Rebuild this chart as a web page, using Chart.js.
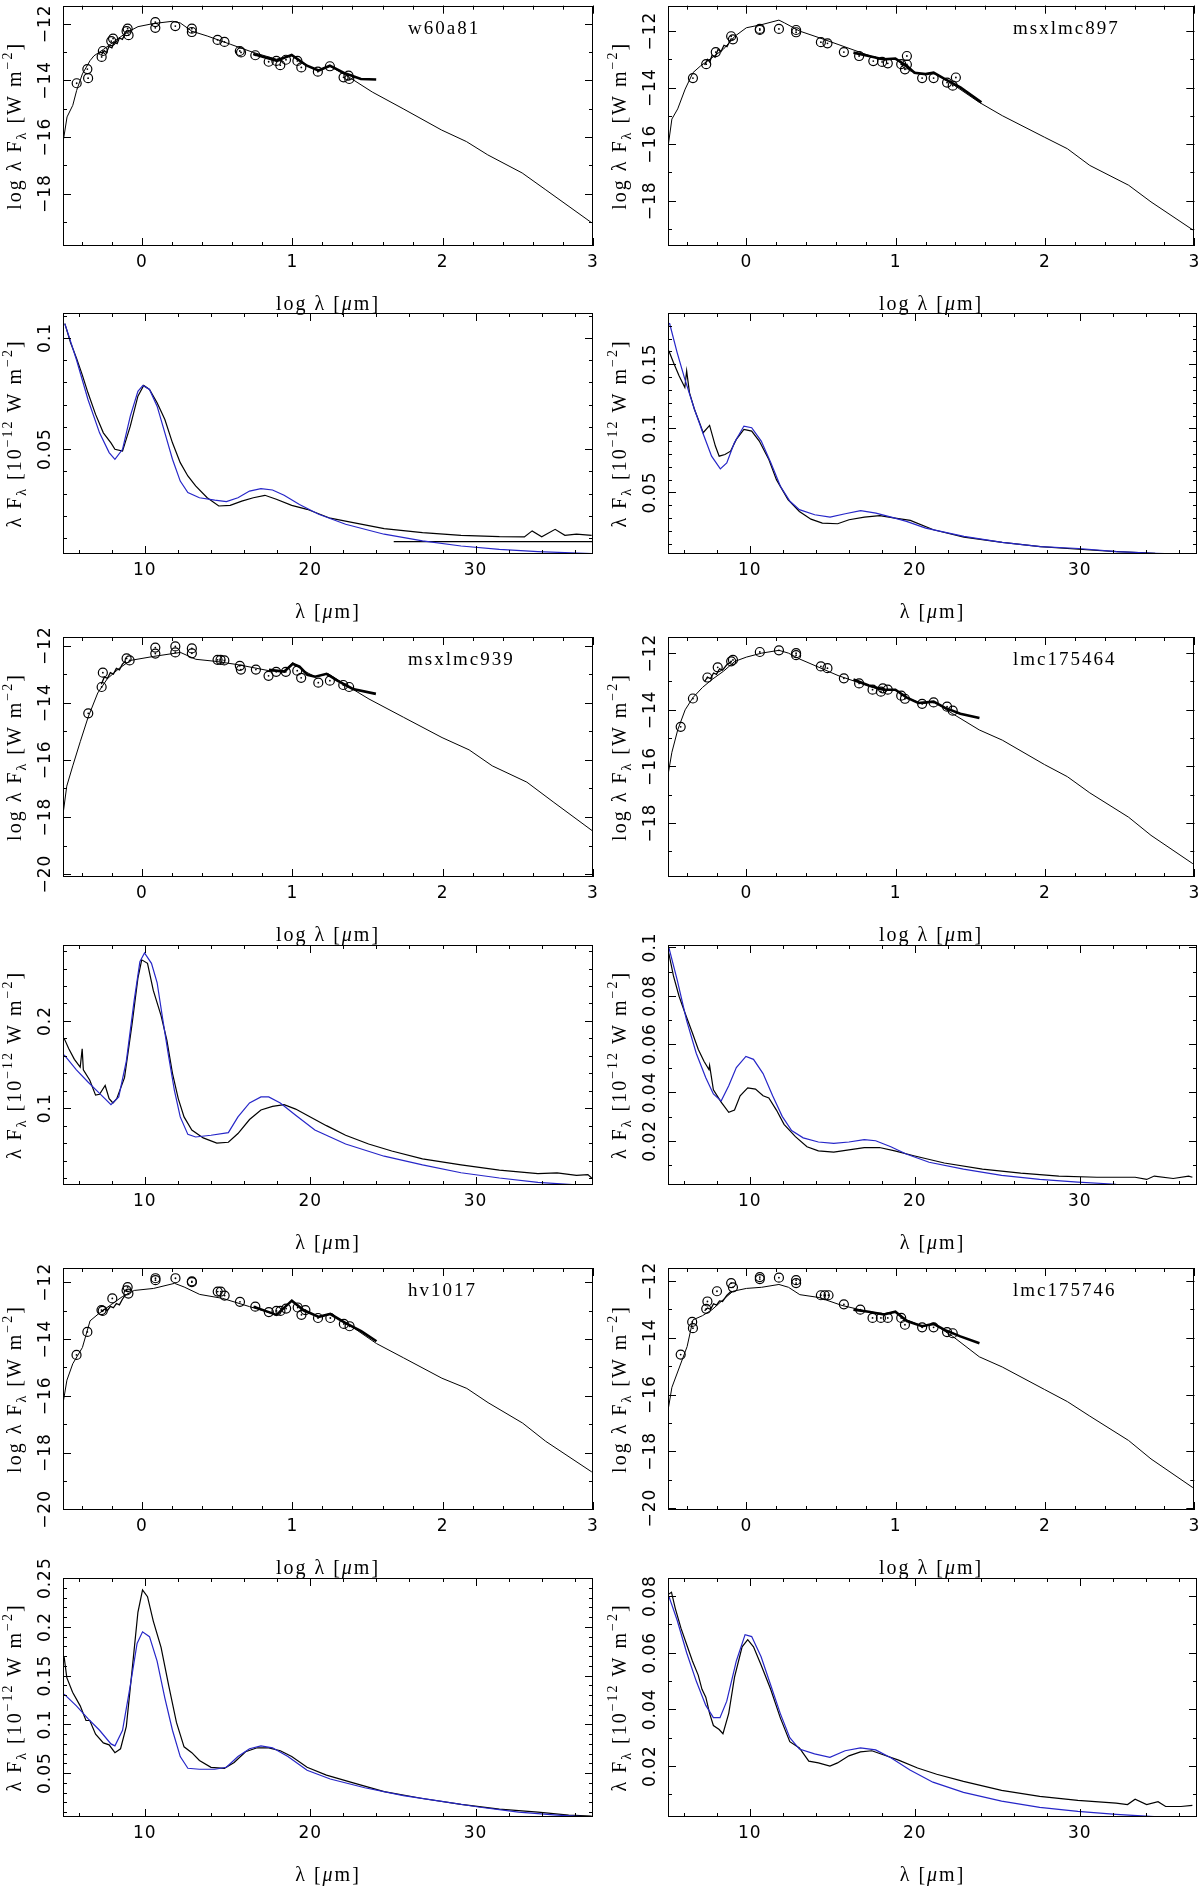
<!DOCTYPE html>
<html>
<head>
<meta charset="utf-8">
<script src="https://cdn.jsdelivr.net/npm/chart.js@4.4.1/dist/chart.umd.min.js"></script>
<style>
html, body { margin: 0; padding: 0; background: #fff; }
#wrap { position: relative; width: 1200px; height: 1893px; overflow: hidden; }
#wrap canvas { position: absolute; }
</style>
</head>
<body>
<div id="wrap"></div>
<script>
// ---- axis ticks ----
var sedXTicks = [0, 1, 2, 3];
var sedYTicks = [-12, -14, -16, -18, -20];
var specXTicks = [10, 20, 30];

// ---- w60a81 ----
var w60a81Model = [[-0.524,-16.16],[-0.498,-15.29],[-0.46,-14.88],[-0.434,-14.35],[-0.396,-13.77],[-0.345,-13.3],[-0.319,-13.13],[-0.255,-12.9],[-0.179,-12.6],[-0.102,-12.31],[-0.026,-12.1],[0.077,-11.99],[0.204,-11.91],[0.255,-11.97],[0.332,-12.26],[0.434,-12.43],[0.587,-12.72],[0.74,-13.01],[0.894,-13.25],[0.996,-13.13],[1.073,-13.42],[1.175,-13.65],[1.25,-13.5],[1.379,-13.89],[1.532,-14.41],[1.737,-15.0],[1.992,-15.75],[2.158,-16.16],[2.3,-16.63],[2.529,-17.27],[2.682,-17.85],[2.989,-19.02]];
var w60a81Irs = [[0.74,-13.07],[0.894,-13.3],[0.996,-13.1],[1.098,-13.48],[1.175,-13.65],[1.25,-13.48],[1.35,-13.75],[1.456,-13.95],[1.558,-13.97]];
var w60a81Nir = [[-0.27,-13.1],[-0.25,-12.95],[-0.235,-13.02],[-0.22,-12.8],[-0.2,-12.85],[-0.185,-12.65],[-0.165,-12.7],[-0.15,-12.5],[-0.13,-12.55],[-0.11,-12.33]];
var w60a81Phot = [[-0.434,-14.10],[-0.363,-13.60],[-0.358,-13.92],[-0.268,-13.17],[-0.26,-12.96],[-0.204,-12.61],[-0.192,-12.52],[-0.102,-12.26],[-0.095,-12.17],[-0.089,-12.40],[0.089,-11.94],[0.089,-12.14],[0.222,-12.08],[0.332,-12.17],[0.332,-12.29],[0.503,-12.57],[0.549,-12.64],[0.651,-12.96],[0.659,-13.01],[0.754,-13.11],[0.843,-13.34],[0.894,-13.31],[0.92,-13.46],[0.958,-13.27],[1.034,-13.31],[1.06,-13.54],[1.17,-13.69],[1.25,-13.50],[1.341,-13.89],[1.374,-13.83],[1.379,-13.95]];
var w60a81Obs = [[5.16,0.1064],[5.51,0.0978],[5.86,0.091],[6.21,0.0835],[6.56,0.0753],[7.02,0.0656],[7.49,0.0573],[7.95,0.0528],[8.19,0.0499],[8.65,0.0491],[9.12,0.0603],[9.58,0.0738],[9.93,0.0786],[10.28,0.0768],[10.74,0.0708],[11.21,0.0633],[11.67,0.0528],[12.14,0.0439],[12.6,0.0379],[13.07,0.0334],[13.77,0.0281],[14.47,0.0244],[15.16,0.0247],[15.86,0.0266],[16.56,0.0281],[17.26,0.0292],[17.95,0.0274],[18.88,0.0247],[19.81,0.0229],[21.21,0.0189],[22.6,0.0169],[24.47,0.0142],[26.79,0.0124],[29.12,0.0112],[31.44,0.0106],[32.95,0.0105],[33.42,0.0132],[34.0,0.0105],[34.81,0.0139],[35.4,0.0112],[36.1,0.0117],[37.02,0.0112]];
var w60a81Fit = [[5.16,0.1064],[5.86,0.0903],[6.56,0.0723],[7.26,0.0573],[7.84,0.0484],[8.19,0.0454],[8.65,0.0499],[9.12,0.0648],[9.58,0.076],[9.88,0.0786],[10.28,0.0768],[10.74,0.0693],[11.21,0.0573],[11.67,0.0454],[12.14,0.0356],[12.6,0.0304],[13.3,0.0281],[14.23,0.027],[14.93,0.0264],[15.63,0.0281],[16.33,0.0311],[17.02,0.0322],[17.72,0.0316],[18.42,0.0292],[19.35,0.0251],[20.51,0.0207],[22.14,0.0162],[24.47,0.0117],[26.79,0.0087],[29.12,0.0064],[31.44,0.0049],[33.77,0.0039],[37.02,0.003]];
var w60a81Base = [[25.05,0.0084],[37.1,0.0084]];

// ---- msxlmc897 ----
var msx897Model = [[-0.522,-15.99],[-0.499,-15.11],[-0.46,-14.75],[-0.41,-14.05],[-0.358,-13.47],[-0.307,-13.23],[-0.23,-12.94],[-0.154,-12.64],[-0.077,-12.18],[0,-11.88],[0.102,-11.77],[0.218,-11.61],[0.256,-11.71],[0.358,-12.0],[0.486,-12.23],[0.614,-12.47],[0.768,-12.76],[0.896,-13.0],[0.998,-12.97],[1.1,-13.41],[1.177,-13.52],[1.254,-13.47],[1.382,-13.88],[1.56,-14.52],[1.714,-14.99],[1.996,-15.75],[2.15,-16.16],[2.3,-16.75],[2.56,-17.45],[2.71,-18.04],[2.99,-19.03]];
var msx897Irs = [[0.717,-12.76],[0.82,-12.88],[0.92,-13.0],[0.998,-12.97],[1.075,-13.23],[1.126,-13.47],[1.2,-13.52],[1.254,-13.47],[1.33,-13.7],[1.433,-13.99],[1.574,-14.52]];
var msx897Nir = [[-0.28,-13.2],[-0.26,-13.0],[-0.245,-13.1],[-0.23,-12.85],[-0.21,-12.92],[-0.19,-12.65],[-0.17,-12.72],[-0.15,-12.5],[-0.13,-12.55],[-0.1,-12.25]];
var msx897Phot = [[-0.358,-13.66],[-0.269,-13.17],[-0.205,-12.74],[-0.102,-12.18],[-0.09,-12.29],[0.09,-11.92],[0.09,-11.96],[0.218,-11.92],[0.333,-11.96],[0.333,-12.04],[0.499,-12.39],[0.543,-12.43],[0.653,-12.74],[0.755,-12.88],[0.85,-13.06],[0.909,-13.09],[0.947,-13.14],[1.037,-13.17],[1.062,-13.35],[1.075,-12.88],[1.075,-13.18],[1.177,-13.66],[1.254,-13.66],[1.344,-13.82],[1.382,-13.93],[1.403,-13.64]];
var msx897Obs = [[5.1,0.1606],[5.38,0.1514],[5.72,0.141],[6.07,0.1319],[6.18,0.1449],[6.35,0.1279],[6.65,0.1149],[7.0,0.1031],[7.18,0.0966],[7.57,0.1023],[7.92,0.0862],[8.15,0.0783],[8.5,0.0796],[8.84,0.0822],[9.19,0.0914],[9.65,0.0992],[10.12,0.0979],[10.58,0.0901],[11.16,0.0757],[11.62,0.06],[12.32,0.0444],[13.01,0.0352],[13.71,0.0292],[14.4,0.0261],[15.33,0.0256],[16.02,0.0287],[16.95,0.0308],[17.88,0.0319],[18.81,0.03],[19.73,0.0282],[21.13,0.0209],[22.98,0.0151],[25.3,0.011],[27.61,0.0078],[29.93,0.0057],[32.25,0.0039],[34.57,0.0026],[36.89,0.0021]];
var msx897Fit = [[5.14,0.1822],[5.6,0.1593],[6.07,0.1384],[6.65,0.1149],[7.23,0.094],[7.69,0.0783],[8.22,0.0684],[8.61,0.0731],[9.07,0.0888],[9.65,0.1018],[10.12,0.1005],[10.7,0.0901],[11.28,0.0731],[11.86,0.0548],[12.44,0.0431],[13.01,0.0366],[13.94,0.0326],[14.87,0.0308],[15.79,0.0334],[16.72,0.0358],[17.65,0.0339],[18.57,0.0308],[19.5,0.0274],[20.66,0.0222],[22.98,0.0157],[25.3,0.011],[27.61,0.0078],[29.93,0.0063],[32.25,0.0039],[34.57,0.0026],[36.89,0.0018]];

// ---- msxlmc939 ----
var msx939Model = [[-0.525,-17.91],[-0.5,-16.92],[-0.46,-16.21],[-0.41,-15.36],[-0.358,-14.51],[-0.294,-13.66],[-0.23,-13.16],[-0.154,-12.81],[-0.077,-12.52],[0.077,-12.38],[0.256,-12.24],[0.358,-12.48],[0.486,-12.55],[0.64,-12.67],[0.845,-12.88],[0.947,-12.88],[1.003,-12.6],[1.075,-12.88],[1.152,-13.09],[1.241,-12.99],[1.356,-13.38],[1.51,-13.87],[1.74,-14.51],[1.996,-15.22],[2.176,-15.65],[2.33,-16.21],[2.56,-16.78],[2.74,-17.49],[2.995,-18.48]];
var msx939Irs = [[0.845,-12.85],[0.947,-12.91],[1.003,-12.64],[1.048,-12.74],[1.1,-13.02],[1.152,-13.09],[1.228,-12.99],[1.3,-13.23],[1.403,-13.52],[1.556,-13.69]];
var msx939Nir = [[-0.27,-13.35],[-0.25,-13.1],[-0.23,-13.15],[-0.21,-12.95],[-0.19,-13.0],[-0.17,-12.8],[-0.15,-12.85],[-0.13,-12.65],[-0.11,-12.55]];
var msx939Phot = [[-0.357,-14.37],[-0.268,-13.45],[-0.26,-12.95],[-0.102,-12.45],[-0.082,-12.52],[0.089,-12.07],[0.089,-12.28],[0.222,-12.03],[0.222,-12.24],[0.332,-12.10],[0.332,-12.27],[0.503,-12.5],[0.523,-12.5],[0.548,-12.52],[0.651,-12.71],[0.658,-12.84],[0.758,-12.84],[0.842,-13.06],[0.893,-12.92],[0.957,-12.92],[1.033,-12.88],[1.059,-13.13],[1.173,-13.3],[1.25,-13.23],[1.339,-13.38],[1.378,-13.45]];
var msx939Obs = [[5.12,0.18],[5.4,0.168],[5.74,0.156],[6.09,0.147],[6.21,0.168],[6.28,0.144],[6.67,0.132],[7.02,0.115],[7.26,0.116],[7.6,0.126],[7.84,0.111],[8.07,0.106],[8.3,0.111],[8.77,0.135],[9.23,0.197],[9.58,0.249],[9.81,0.27],[10.16,0.266],[10.51,0.235],[10.98,0.206],[11.33,0.178],[11.67,0.14],[12.02,0.111],[12.37,0.09],[12.84,0.075],[13.53,0.066],[14.35,0.06],[15.05,0.061],[15.63,0.071],[16.33,0.087],[17.02,0.098],[17.72,0.102],[18.42,0.104],[19.12,0.099],[19.81,0.092],[20.98,0.08],[22.14,0.069],[23.53,0.059],[24.93,0.051],[26.79,0.042],[29.12,0.035],[31.44,0.029],[33.77,0.025],[34.93,0.026],[36.1,0.023],[36.79,0.024],[37.02,0.02]];
var msx939Fit = [[5.12,0.161],[5.86,0.144],[6.56,0.13],[7.26,0.117],[7.95,0.104],[8.42,0.113],[8.88,0.154],[9.35,0.223],[9.7,0.268],[9.98,0.278],[10.4,0.266],[10.74,0.244],[11.09,0.201],[11.44,0.159],[11.79,0.12],[12.14,0.09],[12.6,0.07],[13.07,0.067],[14.0,0.069],[15.05,0.072],[15.63,0.09],[16.33,0.106],[17.02,0.113],[17.49,0.113],[18.19,0.106],[19.12,0.092],[20.28,0.075],[22.14,0.059],[24.47,0.045],[26.79,0.035],[29.12,0.026],[31.44,0.02],[33.77,0.015],[37.02,0.011]];

// ---- lmc175464 ----
var lmc464Model = [[-0.522,-16.21],[-0.499,-15.5],[-0.46,-14.71],[-0.41,-14.0],[-0.358,-13.57],[-0.294,-13.21],[-0.23,-12.93],[-0.154,-12.64],[-0.077,-12.29],[0,-12.14],[0.102,-12.0],[0.218,-11.9],[0.282,-12.0],[0.358,-12.21],[0.486,-12.5],[0.614,-12.79],[0.768,-13.07],[0.896,-13.29],[0.998,-13.29],[1.075,-13.57],[1.177,-13.79],[1.254,-13.71],[1.382,-14.14],[1.56,-14.71],[1.714,-15.07],[1.996,-15.93],[2.15,-16.36],[2.3,-16.93],[2.56,-17.79],[2.71,-18.43],[2.99,-19.43]];
var lmc464Irs = [[0.717,-12.93],[0.82,-13.14],[0.92,-13.29],[0.998,-13.29],[1.075,-13.57],[1.152,-13.76],[1.254,-13.71],[1.331,-13.93],[1.433,-14.14],[1.561,-14.29]];
var lmc464Nir = [[-0.28,-13.0],[-0.26,-12.85],[-0.24,-12.9],[-0.22,-12.7],[-0.2,-12.75],[-0.18,-12.55],[-0.16,-12.6],[-0.13,-12.4],[-0.1,-12.3]];
var lmc464Phot = [[-0.44,-14.6],[-0.358,-13.6],[-0.261,-12.86],[-0.192,-12.5],[-0.102,-12.29],[-0.09,-12.24],[0.09,-11.96],[0.218,-11.9],[0.333,-12.0],[0.333,-12.07],[0.499,-12.47],[0.543,-12.53],[0.653,-12.89],[0.755,-13.07],[0.845,-13.29],[0.901,-13.36],[0.914,-13.24],[0.947,-13.29],[1.037,-13.5],[1.062,-13.61],[1.177,-13.79],[1.254,-13.74],[1.344,-13.89],[1.382,-14.03]];
var lmc464Obs = [[5.1,0.0975],[5.38,0.0882],[5.72,0.0798],[6.07,0.0731],[6.53,0.0646],[6.88,0.0579],[7.23,0.0529],[7.53,0.0495],[7.57,0.0512],[7.8,0.0411],[8.27,0.036],[8.73,0.0318],[9.08,0.0327],[9.42,0.0386],[9.88,0.0419],[10.35,0.0414],[10.81,0.0386],[11.16,0.0377],[11.62,0.0327],[12.08,0.0268],[12.77,0.0217],[13.47,0.0175],[14.16,0.0158],[15.09,0.0153],[16.01,0.0162],[16.94,0.0172],[17.86,0.0172],[18.79,0.0158],[19.94,0.0138],[21.79,0.0108],[24.1,0.0083],[26.42,0.0066],[28.73,0.0054],[31.04,0.0049],[33.35,0.0049],[34.05,0.004],[34.51,0.0054],[35.66,0.0044],[36.59,0.0054],[36.82,0.0049]];
var lmc464Fit = [[5.1,0.1],[5.61,0.0865],[6.18,0.0697],[6.76,0.0562],[7.34,0.0461],[7.8,0.0394],[8.27,0.0364],[8.73,0.0428],[9.19,0.0503],[9.77,0.0549],[10.23,0.0537],[10.81,0.0478],[11.39,0.0386],[11.97,0.0301],[12.54,0.0242],[13.24,0.0212],[14.16,0.0195],[15.09,0.0189],[16.01,0.0195],[16.94,0.0205],[17.63,0.02],[18.55,0.0175],[19.48,0.0145],[20.87,0.0111],[22.95,0.0083],[25.26,0.0057],[27.57,0.004],[29.88,0.0029],[32.2,0.002],[34.51,0.0015],[36.82,0.0012]];

// ---- hv1017 ----
var hv1017Model = [[-0.524,-16.24],[-0.499,-15.45],[-0.46,-14.87],[-0.396,-14.3],[-0.345,-13.36],[-0.281,-13.08],[-0.205,-12.79],[-0.128,-12.5],[-0.051,-12.29],[0.077,-12.22],[0.217,-12.04],[0.281,-12.17],[0.384,-12.43],[0.537,-12.57],[0.716,-12.86],[0.895,-13.15],[0.997,-12.65],[1.074,-13.01],[1.176,-13.22],[1.253,-13.12],[1.381,-13.51],[1.56,-14.16],[1.739,-14.66],[1.995,-15.38],[2.161,-15.74],[2.302,-16.24],[2.532,-16.96],[2.685,-17.6],[2.992,-18.68]];
var hv1017Irs = [[0.742,-12.86],[0.895,-13.15],[0.997,-12.65],[1.074,-12.98],[1.176,-13.22],[1.253,-13.12],[1.355,-13.44],[1.458,-13.72],[1.56,-14.08]];
var hv1017Nir = [[-0.27,-13.05],[-0.25,-12.95],[-0.23,-13.0],[-0.21,-12.85],[-0.19,-12.9],[-0.17,-12.75],[-0.15,-12.8],[-0.13,-12.6],[-0.11,-12.45]];
var hv1017Phot = [[-0.435,-14.56],[-0.363,-13.75],[-0.269,-12.98],[-0.261,-13.01],[-0.197,-12.57],[-0.102,-12.29],[-0.095,-12.17],[-0.09,-12.4],[0.09,-11.86],[0.09,-11.93],[0.223,-11.86],[0.332,-11.97],[0.332,-12.0],[0.504,-12.33],[0.524,-12.33],[0.55,-12.47],[0.652,-12.69],[0.754,-12.86],[0.844,-13.05],[0.895,-13.01],[0.921,-13.01],[0.959,-12.93],[1.036,-12.89],[1.061,-13.15],[1.087,-12.98],[1.171,-13.26],[1.253,-13.26],[1.343,-13.47],[1.381,-13.55]];
var hv1017Obs = [[5.12,0.169],[5.28,0.148],[5.63,0.133],[6.09,0.119],[6.44,0.104],[6.67,0.104],[7.02,0.09],[7.49,0.081],[7.84,0.079],[8.19,0.071],[8.53,0.075],[8.88,0.098],[9.23,0.156],[9.58,0.215],[9.86,0.238],[10.16,0.231],[10.51,0.206],[10.98,0.179],[11.44,0.14],[11.91,0.102],[12.37,0.077],[12.84,0.071],[13.3,0.063],[14.0,0.056],[14.81,0.055],[15.4,0.061],[16.09,0.072],[16.79,0.076],[17.49,0.076],[18.19,0.073],[18.88,0.067],[19.81,0.056],[20.98,0.048],[22.6,0.04],[24.47,0.031],[26.79,0.024],[29.12,0.018],[31.44,0.013],[33.77,0.01],[35.63,0.007],[37.02,0.006]];
var hv1017Fit = [[5.12,0.131],[5.86,0.119],[6.56,0.106],[7.26,0.094],[7.95,0.08],[8.19,0.078],[8.65,0.094],[9.12,0.14],[9.53,0.183],[9.86,0.195],[10.28,0.19],[10.74,0.165],[11.21,0.127],[11.67,0.094],[12.14,0.067],[12.6,0.055],[13.3,0.054],[14.23,0.054],[14.93,0.056],[15.63,0.067],[16.33,0.075],[17.02,0.078],[17.72,0.076],[18.65,0.067],[19.81,0.053],[21.21,0.044],[23.3,0.035],[25.63,0.027],[27.95,0.021],[30.28,0.015],[32.6,0.01],[34.93,0.007],[37.02,0.005]];

// ---- lmc175746 ----
var lmc746Model = [[-0.522,-16.47],[-0.499,-15.75],[-0.448,-15.03],[-0.397,-14.31],[-0.358,-13.37],[-0.294,-13.22],[-0.23,-13.01],[-0.154,-12.65],[-0.09,-12.36],[0,-12.26],[0.102,-12.22],[0.218,-12.12],[0.282,-12.22],[0.358,-12.48],[0.486,-12.58],[0.64,-12.86],[0.819,-13.08],[0.921,-13.15],[0.998,-13.08],[1.075,-13.37],[1.177,-13.59],[1.254,-13.51],[1.382,-13.95],[1.56,-14.67],[1.714,-15.03],[1.996,-15.82],[2.15,-16.25],[2.3,-16.76],[2.56,-17.62],[2.71,-18.27],[2.99,-19.28]];
var lmc746Irs = [[0.717,-13.01],[0.819,-13.08],[0.921,-13.18],[0.998,-13.08],[1.075,-13.41],[1.177,-13.59],[1.254,-13.51],[1.331,-13.73],[1.433,-13.95],[1.561,-14.19]];
var lmc746Nir = [[-0.28,-13.05],[-0.26,-12.95],[-0.24,-13.0],[-0.22,-12.8],[-0.2,-12.85],[-0.18,-12.7],[-0.16,-12.72],[-0.13,-12.5],[-0.1,-12.35]];
var lmc746Phot = [[-0.44,-14.59],[-0.363,-13.44],[-0.358,-13.66],[-0.269,-12.98],[-0.261,-12.72],[-0.197,-12.36],[-0.102,-12.07],[-0.09,-12.22],[0.09,-11.86],[0.09,-11.93],[0.218,-11.88],[0.333,-11.97],[0.333,-12.07],[0.499,-12.5],[0.525,-12.5],[0.55,-12.5],[0.653,-12.82],[0.763,-13.01],[0.845,-13.3],[0.901,-13.3],[0.947,-13.3],[1.037,-13.3],[1.062,-13.54],[1.177,-13.63],[1.254,-13.63],[1.344,-13.8],[1.382,-13.84]];
var lmc746Obs = [[5.1,0.0807],[5.26,0.0814],[5.49,0.0757],[5.84,0.0686],[6.18,0.0629],[6.53,0.0571],[6.88,0.0521],[7.11,0.0471],[7.34,0.0443],[7.57,0.0386],[7.8,0.0343],[8.15,0.0329],[8.38,0.0314],[8.73,0.0386],[9.08,0.0514],[9.54,0.0621],[9.88,0.0646],[10.23,0.0621],[10.69,0.0557],[11.27,0.0471],[11.85,0.0371],[12.43,0.0286],[13.01,0.0264],[13.58,0.0217],[14.16,0.0211],[14.86,0.02],[15.32,0.0211],[16.01,0.0236],[16.71,0.025],[17.4,0.0254],[18.09,0.024],[19.02,0.0221],[20.17,0.0193],[21.33,0.0171],[22.95,0.0146],[25.26,0.0114],[27.57,0.0093],[29.88,0.0079],[32.2,0.0069],[32.89,0.0064],[33.35,0.0083],[34.05,0.0064],[34.74,0.0074],[35.2,0.0057],[36.13,0.0057],[36.82,0.0061]];
var lmc746Fit = [[5.1,0.08],[5.61,0.0714],[6.18,0.06],[6.76,0.05],[7.34,0.0414],[7.8,0.0371],[8.2,0.0371],[8.61,0.0429],[9.19,0.0571],[9.72,0.0664],[10.12,0.0657],[10.69,0.0586],[11.27,0.0486],[11.85,0.0386],[12.43,0.03],[13.01,0.026],[13.93,0.0243],[14.86,0.0231],[15.78,0.0254],[16.71,0.0264],[17.63,0.0257],[18.55,0.0229],[19.71,0.0186],[21.1,0.0143],[22.95,0.0107],[25.26,0.0076],[27.57,0.0054],[29.88,0.004],[32.2,0.0029],[34.51,0.0021],[36.82,0.0017]];

// ---- page layout ----
var rowTop = [3, 313, 637, 945, 1268, 1578];
var rowBottom = [246, 554, 877, 1185, 1510, 1817];
var colFrame = [[63, 593], [668, 1197]];

var panels = [
  { kind: 'sed', col: 0, row: 0, name: 'w60a81', yMin: -19.85, yMax: -11.36, model: w60a81Model, irs: w60a81Irs, nir: w60a81Nir, phot: w60a81Phot },
  { kind: 'sed', col: 1, row: 0, name: 'msxlmc897', yMin: -19.6, yMax: -11.1, model: msx897Model, irs: msx897Irs, nir: msx897Nir, phot: msx897Phot },
  { kind: 'spec', col: 0, row: 1, yMin: 0.0028, yMax: 0.1112, yMajor: [0.05, 0.1], yStep: 0.01, obs: w60a81Obs, fit: w60a81Fit, extra: w60a81Base },
  { kind: 'spec', col: 1, row: 1, yMin: 0.002, yMax: 0.19, yMajor: [0.05, 0.1, 0.15], yStep: 0.01, obs: msx897Obs, fit: msx897Fit },
  { kind: 'sed', col: 0, row: 2, name: 'msxlmc939', yMin: -20.1, yMax: -11.7, model: msx939Model, irs: msx939Irs, nir: msx939Nir, phot: msx939Phot },
  { kind: 'sed', col: 1, row: 2, name: 'lmc175464', yMin: -19.9, yMax: -11.43, model: lmc464Model, irs: lmc464Irs, nir: lmc464Nir, phot: lmc464Phot },
  { kind: 'spec', col: 0, row: 3, yMin: 0.012, yMax: 0.287, yMajor: [0.1, 0.2], yStep: 0.02, obs: msx939Obs, fit: msx939Fit },
  { kind: 'spec', col: 1, row: 3, yMin: 0.0017, yMax: 0.101, yMajor: [0.02, 0.04, 0.06, 0.08, 0.1], yStep: 0.01, obs: lmc464Obs, fit: lmc464Fit },
  { kind: 'sed', col: 0, row: 4, name: 'hv1017', yMin: -20.02, yMax: -11.5, model: hv1017Model, irs: hv1017Irs, nir: hv1017Nir, phot: hv1017Phot },
  { kind: 'sed', col: 1, row: 4, name: 'lmc175746', yMin: -20.07, yMax: -11.54, model: lmc746Model, irs: lmc746Irs, nir: lmc746Nir, phot: lmc746Phot },
  { kind: 'spec', col: 0, row: 5, yMin: 0.005, yMax: 0.2502, yMajor: [0.05, 0.1, 0.15, 0.2, 0.25], yStep: 0.01, obs: hv1017Obs, fit: hv1017Fit },
  { kind: 'spec', col: 1, row: 5, yMin: 0.002, yMax: 0.0864, yMajor: [0.02, 0.04, 0.06, 0.08], yStep: 0.01, obs: lmc746Obs, fit: lmc746Fit }
];

var TF = '20px "Liberation Serif"', TS = '14px "Liberation Serif"', TI = 'italic 20px "Liberation Serif"';
var sedYTitle = [{ t: 'log λ F', f: TF, dy: 7 }, { t: 'λ', f: TS, dy: 12 }, { t: ' [W m', f: TF, dy: 7 }, { t: '−2', f: TS, dy: -2 }, { t: ']', f: TF, dy: 7 }];
var specYTitle = [{ t: 'λ F', f: TF, dy: 7 }, { t: 'λ', f: TS, dy: 12 }, { t: ' [10', f: TF, dy: 7 }, { t: '−12', f: TS, dy: -2 }, { t: ' W m', f: TF, dy: 7 }, { t: '−2', f: TS, dy: -2 }, { t: ']', f: TF, dy: 7 }];
var sedXTitle = [{ t: 'log λ [', f: TF, dy: 7 }, { t: 'μ', f: TI, dy: 7 }, { t: 'm]', f: TF, dy: 7 }];
var specXTitle = [{ t: 'λ [', f: TF, dy: 7 }, { t: 'μ', f: TI, dy: 7 }, { t: 'm]', f: TF, dy: 7 }];

function xy(arr) { return arr.map(function (p) { return { x: p[0], y: p[1] }; }); }

function fmt(v) {
  var s = String(Math.round(v * 1000) / 1000);
  return s.charAt(0) === '-' ? '−' + s.slice(1) : s;
}

function drawRich(ctx, parts, cx, cy, vertical) {
  ctx.save();
  ctx.letterSpacing = '2px';
  ctx.translate(cx, cy);
  if (vertical) ctx.rotate(-Math.PI / 2);
  ctx.textAlign = 'left';
  ctx.textBaseline = 'alphabetic';
  var w = 0;
  parts.forEach(function (p) { ctx.font = p.f; w += ctx.measureText(p.t).width; });
  var x = -w / 2;
  parts.forEach(function (p) { ctx.font = p.f; ctx.fillText(p.t, x, p.dy); x += ctx.measureText(p.t).width; });
  ctx.restore();
}

function steps(min, max, step) {
  var out = [];
  var k0 = Math.ceil(min / step - 1e-6), k1 = Math.floor(max / step + 1e-6);
  for (var k = k0; k <= k1; k++) out.push(k * step);
  return out;
}

// frame, inward ticks on all four sides, labels and titles (PGPLOT look)
var framePlugin = {
  id: 'pgframe',
  afterDatasetsDraw: function (chart, args, o) {
    var ctx = chart.ctx, a = chart.chartArea, xs = chart.scales.x, ys = chart.scales.y;
    ctx.save();
    ctx.strokeStyle = '#000';
    ctx.fillStyle = '#000';
    ctx.lineWidth = 1;
    ctx.strokeRect(Math.round(a.left) + 0.5, Math.round(a.top) + 0.5, Math.round(a.right - a.left) - 1, Math.round(a.bottom - a.top) - 1);
    ctx.beginPath();
    function xt(v, len) {
      var px = Math.round(xs.getPixelForValue(v)) + 0.5;
      ctx.moveTo(px, a.bottom); ctx.lineTo(px, a.bottom - len);
      ctx.moveTo(px, a.top); ctx.lineTo(px, a.top + len);
    }
    function yt(v, len) {
      var py = Math.round(ys.getPixelForValue(v)) + 0.5;
      ctx.moveTo(a.left, py); ctx.lineTo(a.left + len, py);
      ctx.moveTo(a.right, py); ctx.lineTo(a.right - len, py);
    }
    steps(xs.min, xs.max, o.xStep).forEach(function (v) { xt(v, 4); });
    o.xMajor.forEach(function (v) { if (v >= xs.min && v <= xs.max) xt(v, 8); });
    steps(ys.min, ys.max, o.yStep).forEach(function (v) { yt(v, 4); });
    o.yMajor.forEach(function (v) { if (v >= ys.min - 1e-6 && v <= ys.max + 1e-6) yt(v, 8); });
    ctx.stroke();

    ctx.font = '17px "DejaVu Sans"';
    ctx.letterSpacing = '1px';
    ctx.textAlign = 'center';
    ctx.textBaseline = 'middle';
    o.xMajor.forEach(function (v) {
      if (v >= xs.min && v <= xs.max) ctx.fillText(fmt(v), xs.getPixelForValue(v), a.bottom + 17);
    });
    o.yMajor.forEach(function (v) {
      if (v >= ys.min - 1e-6 && v <= ys.max + 1e-6) {
        ctx.save();
        ctx.translate(a.left - 17, ys.getPixelForValue(v));
        ctx.rotate(-Math.PI / 2);
        ctx.fillText(fmt(v), 0, 0);
        ctx.restore();
      }
    });
    ctx.letterSpacing = '0px';
    drawRich(ctx, o.xTitle, (a.left + a.right) / 2, a.bottom + 57, false);
    drawRich(ctx, o.yTitle, a.left - 49, (a.top + a.bottom) / 2, true);
    if (o.name) {
      ctx.font = '19px "Liberation Serif"';
      ctx.letterSpacing = '2px';
      ctx.textAlign = 'left';
      ctx.textBaseline = 'middle';
      ctx.fillText(o.name, a.left + 345, a.top + 23);
    }
    ctx.restore();
  }
};

var wrap = document.getElementById('wrap');

panels.forEach(function (p) {
  var colL = p.col * 600;
  var fl = colFrame[p.col][0], fr = colFrame[p.col][1];
  var ft = rowTop[p.row], fb = rowBottom[p.row];
  var ct = Math.max(0, ft - 24);
  var ch = fb - ct + 78;
  var cv = document.createElement('canvas');
  cv.width = 600; cv.height = ch;
  cv.style.left = colL + 'px'; cv.style.top = ct + 'px';
  cv.style.width = '600px'; cv.style.height = ch + 'px';
  wrap.appendChild(cv);

  var ds = [], frame;
  if (p.kind === 'sed') {
    ds.push({ data: xy(p.model), showLine: true, borderColor: '#000', borderWidth: 1, pointRadius: 0 });
    ds.push({ data: xy(p.irs), showLine: true, borderColor: '#000', borderWidth: 2.6, pointRadius: 0 });
    ds.push({ data: xy(p.nir), showLine: true, borderColor: '#000', borderWidth: 1.3, pointRadius: 0 });
    ds.push({ data: xy(p.phot), showLine: false, pointStyle: 'circle', pointRadius: 4.5, pointBorderWidth: 1.2, pointBorderColor: '#000', pointBackgroundColor: 'rgba(0,0,0,0)' });
    ds.push({ data: xy(p.phot), showLine: false, pointStyle: 'circle', pointRadius: 0.9, pointBorderWidth: 0, pointBackgroundColor: '#000' });
    frame = { xMajor: sedXTicks, xStep: 0.2, yMajor: sedYTicks, yStep: 1, xTitle: sedXTitle, yTitle: sedYTitle, name: p.name };
  } else {
    ds.push({ data: xy(p.fit), showLine: true, borderColor: '#2626c8', borderWidth: 1.2, pointRadius: 0 });
    ds.push({ data: xy(p.obs), showLine: true, borderColor: '#000', borderWidth: 1.2, pointRadius: 0 });
    if (p.extra) ds.push({ data: xy(p.extra), showLine: true, borderColor: '#000', borderWidth: 1.2, pointRadius: 0 });
    frame = { xMajor: specXTicks, xStep: 2, yMajor: p.yMajor, yStep: p.yStep, xTitle: specXTitle, yTitle: specYTitle };
  }

  new Chart(cv, {
    type: 'scatter',
    data: { datasets: ds },
    options: {
      responsive: false,
      animation: false,
      devicePixelRatio: 1,
      events: [],
      layout: { padding: { left: fl - colL, right: colL + 600 - fr, top: ft - ct, bottom: ch - (fb - ct) } },
      scales: {
        x: p.kind === 'sed' ? { type: 'linear', min: -0.525, max: 3, display: false } : { type: 'linear', min: 5.05, max: 37.1, display: false },
        y: { type: 'linear', min: p.yMin, max: p.yMax, display: false }
      },
      elements: { line: { tension: 0 } },
      plugins: { legend: { display: false }, tooltip: { enabled: false }, pgframe: frame }
    },
    plugins: [framePlugin]
  });
});
</script>
</body>
</html>
